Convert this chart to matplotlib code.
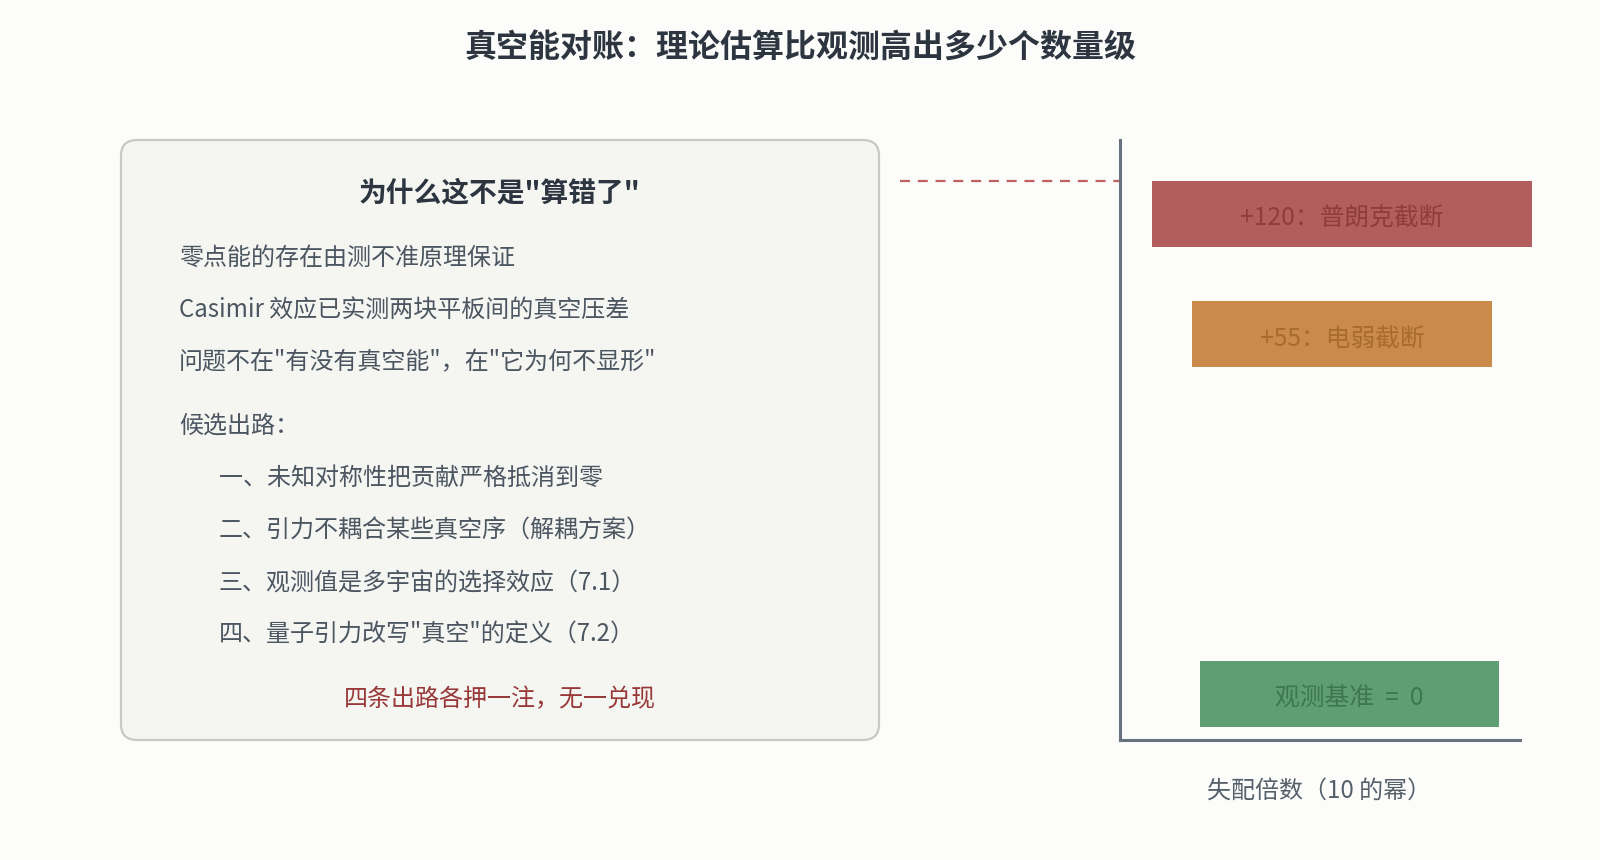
import numpy as np
import matplotlib
matplotlib.use("Agg")
import matplotlib.pyplot as plt
from matplotlib.patches import FancyBboxPatch
import matplotlib.transforms as mtransforms

plt.rcParams['font.family'] = ['Noto Sans CJK SC', 'DejaVu Sans']

# ---------------- data ----------------
title = "真空能对账：理论估算比观测高出多少个数量级"
box_title = '为什么这不是"算错了"'
box_lines = [
    "零点能的存在由测不准原理保证",
    "Casimir 效应已实测两块平板间的真空压差",
    '问题不在"有没有真空能"，在"它为何不显形"',
    "候选出路：",
]
box_items = [
    "一、未知对称性把贡献严格抵消到零",
    "二、引力不耦合某些真空序（解耦方案）",
    "三、观测值是多宇宙的选择效应（7.1）",
    '四、量子引力改写"真空"的定义（7.2）',
]
box_footer = "四条出路各押一注，无一兑现"

bar_values = [120, 55, 0]
bar_labels = ["+120：普朗克截断", "+55：电弱截断", "观测基准  =  0"]
x_label = "失配倍数（10 的幂）"

bar_colors = ["#b35e5e", "#c98a4a", "#5f9e72"]
bar_text_colors = ["#8e3c3c", "#a96a2e", "#3e7650"]

# ---------------- figure ----------------
W, H = 1600, 860
fig = plt.figure(figsize=(W / 100, H / 100), dpi=100)
fig.patch.set_facecolor("#fcfcfb")

ov = fig.add_axes([0, 0, 1, 1])
ov.set_xlim(0, W)
ov.set_ylim(H, 0)
ov.axis("off")
ov.set_facecolor("none")

DY = 3  # vertical text offset (pixels)

ov.text(800, 45 + DY, title, ha="center", va="center", fontsize=23,
        fontweight="bold", color="#2d3540")

box = FancyBboxPatch((121, 140), 758, 600,
                     boxstyle="round,pad=0,rounding_size=16",
                     facecolor="#f5f5f2", edgecolor="#c9c9c3", linewidth=1.6)
ov.add_patch(box)

ov.text(500, 190 + DY, box_title, ha="center", va="center", fontsize=20,
        fontweight="bold", color="#2d3540")

body_color = "#4b5661"
line_y = [255, 307, 359, 423]
for s, y in zip(box_lines, line_y):
    ov.text(179, y + DY, s, ha="left", va="center", fontsize=17.3, color=body_color)
item_y = [475, 528, 580, 632]
for s, y in zip(box_items, item_y):
    ov.text(219, y + DY, s, ha="left", va="center", fontsize=17.3, color=body_color)
ov.text(500, 696 + DY, box_footer, ha="center", va="center", fontsize=17.3,
        color="#983838")

# ---------------- right chart ----------------
ax_left, ax_top, ax_w, ax_h = 1120, 140, 400, 600
ax = fig.add_axes([ax_left / W, (H - ax_top - ax_h) / H, ax_w / W, ax_h / H])
ax.set_facecolor("none")

p = 0.37
fwd = lambda v: np.sign(v) * np.abs(v) ** p
inv = lambda t: np.sign(t) * np.abs(t) ** (1 / p)
ax.set_yscale("function", functions=(fwd, inv))
ax.set_ylim(inv(-0.967), inv(6.377))
ax.set_xlim(0, ax_w)

bar_h_t = 0.808  # bar thickness in scaled units
text_shift_t = 0.06
bar_lefts = [32, 72, 80]
bar_widths = [380, 300, 299]
for v, lab, c, tc, l, w in zip(bar_values, bar_labels, bar_colors,
                               bar_text_colors, bar_lefts, bar_widths):
    bottom = inv(fwd(v) - bar_h_t)
    ax.bar(l, v - bottom, bottom=bottom, width=w, align="edge",
           color=c, clip_on=False, zorder=2)
    ymid = inv(fwd(v) - bar_h_t / 2 - text_shift_t)
    ax.text(l + w / 2, ymid, lab, ha="center", va="center", fontsize=17.8,
            color=tc, zorder=3)

trans = mtransforms.blended_transform_factory(ax.transAxes, ax.transData)
ax.plot([-0.55, 0], [bar_values[0], bar_values[0]], transform=trans,
        color="#c0605f", linewidth=1.6, linestyle=(0, (4.5, 3.5)),
        clip_on=False, zorder=1)

for side in ["top", "right"]:
    ax.spines[side].set_visible(False)
for side in ["left", "bottom"]:
    ax.spines[side].set_color("#66737f")
    ax.spines[side].set_linewidth(2.2)
ax.set_xticks([])
ax.set_yticks([])
ax.minorticks_off()
ax.yaxis.set_minor_locator(matplotlib.ticker.NullLocator())

ov.text(1319, 788 + DY, x_label, ha="center", va="center", fontsize=17.3,
        color="#55606b")

fig.savefig("out.png", dpi=100, facecolor=fig.get_facecolor())
